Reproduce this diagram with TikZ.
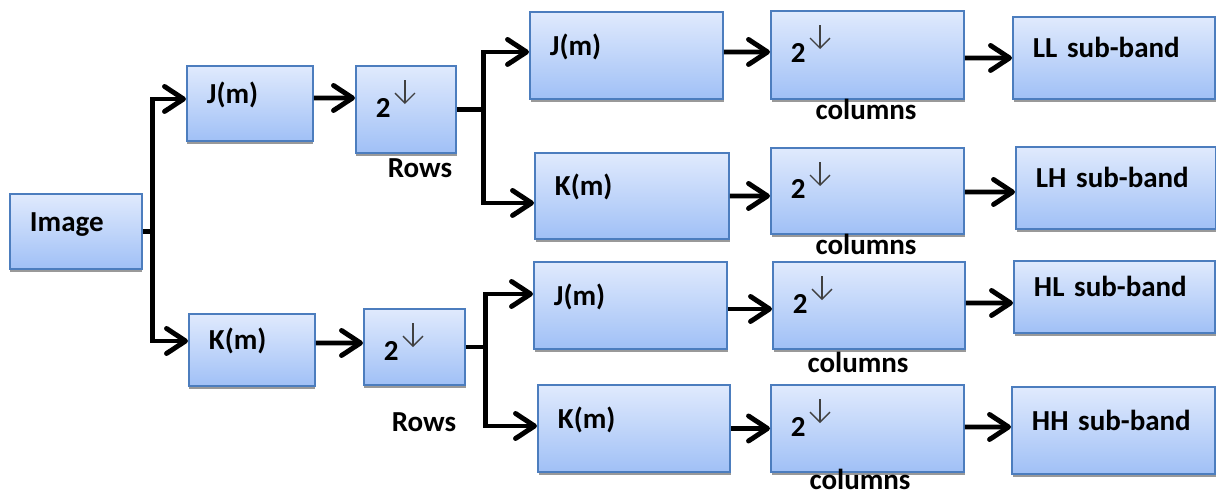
\documentclass[tikz,border=0pt]{standalone}
\usepackage{fontspec}
\setmainfont{Carlito}
\usetikzlibrary{arrows.meta,shadows}

\definecolor{boxtop}{RGB}{224,234,253}
\definecolor{boxbottom}{RGB}{160,192,246}
\definecolor{boxline}{RGB}{76,125,190}

\begin{document}
\begin{tikzpicture}[x=0.02cm, y=-0.02cm,
		box/.style 2 args={draw=boxline, line width=1.1pt, top color=boxtop, bottom color=boxbottom,
			drop shadow={shadow xshift=0.3pt, shadow yshift=-2pt, fill=black!40, opacity=1},
			anchor=north west, minimum width=#1*0.02cm, minimum height=#2*0.02cm,
			text width=#1*0.02cm-0.8cm, inner xsep=0.4cm, align=left,
			font=\fontsize{16.5}{19}\selectfont\bfseries, text height=0.35cm, text depth=0.35cm},
		down/.style={text height=0.4cm, text depth=0.08cm},
		note/.style={font=\fontsize{16.5}{19}\selectfont\bfseries, inner sep=1pt},
		wire/.style={line width=2.8pt},
		link/.style={wire, -{Straight Barb[length=0.38cm, width=0.5cm, round]}},
		dnarrow/.style={black!75, line width=0.8pt, -{Straight Barb[length=0.2cm, width=0.4cm]}}]
			\useasboundingbox (0,0) rectangle (1216,495);

			\node[box={132}{75}] (img) at (9,193) {Image};

			% rows
			\node[box={126}{75}] (ja1) at (186,65) {J(m)};
			\node[box={126}{72}] (ka1) at (188,313) {K(m)};
			\node[box={100}{87}, down] (r1) at (355,65) {2};
			\node[box={101}{76}, down, text height=0.6cm, text depth=0.04cm] (r2) at (363,308) {2};
			\node[note] (rw1) at (420,168) {Rows};
			\node[note] (rw2) at (424,422) {Rows};

			% columns
			\node[box={193}{87}] (ja2) at (529,11) {J(m)};
			\node[box={194}{86}] (ka2) at (534,152) {K(m)};
			\node[box={193}{87}] (ja3) at (533,261) {J(m)};
			\node[box={192}{87}] (ka3) at (537,384) {K(m)};
			\node[box={193}{88}, down] (c1) at (770,10) {2};
			\node[box={193}{86}, down] (c2) at (770,147) {2};
			\node[box={192}{87}, down] (c3) at (772,261) {2};
			\node[box={193}{87}, down] (c4) at (770,384) {2};
			\node[note] (cl1) at (866,109) {columns};
			\node[note] (cl2) at (866,244) {columns};
			\node[note] (cl3) at (858,362) {columns};
			\node[note] (cl4) at (860,479) {columns};

			% sub-bands
			\node[box={202}{82}] (ll) at (1012,16) {LL sub-band};
			\node[box={200}{82}] (lh) at (1015,146) {LH sub-band};
			\node[box={201}{72}] (hl) at (1013,260) {HL sub-band};
			\node[box={203}{87}] (hh) at (1011,386) {HH sub-band};

			% the down arrow after each 2
			\foreach \n in {r1,r2,c1,c2,c3,c4}
				\draw[dnarrow] ([xshift=1cm, yshift=-0.3cm]\n.north west) -- ([xshift=1cm, yshift=-0.78cm]\n.north west);

			\coordinate (s1) at ([xshift=0.2cm]img.east);
			\coordinate (s2) at ([xshift=0.54cm]r1.east);
			\coordinate (s3) at ([xshift=0.4cm]r2.east);

			\draw[wire] (img.east) -- (s1);
			\draw[link] (s1) |- ([yshift=0.09cm]ja1.west); % image to J
			\draw[link] (s1) |- ([yshift=0.18cm]ka1.west); % image to K
			\draw[link] ([yshift=0.11cm]ja1.east) -- ([yshift=0.23cm]r1.west);
			\draw[link] ([yshift=0.14cm]ka1.east) -- ([yshift=0.08cm]r2.west);

			\draw[wire] (r1.east) -- (s2);
			\draw[link] (s2) |- ([yshift=0.07cm]ja2.west);
			\draw[link] (s2) |- ([yshift=-0.14cm]ka2.west);
			\draw[wire] (r2.east) -- (s3);
			\draw[link] (s3) |- ([yshift=0.23cm]ja3.west);
			\draw[link] (s3) |- ([yshift=0.05cm]ka3.west);

			\draw[link] ([yshift=0.07cm]ja2.east) -- ([yshift=0.06cm]c1.west);
			\draw[link] (ka2.east) -- ([yshift=-0.1cm]c2.west);
			\draw[link] ([yshift=-0.07cm]ja3.east) -- ([yshift=-0.07cm]c3.west);
			\draw[link] (ka3.east) -- (c4.west);

			\draw[link] ([yshift=-0.06cm]c1.east) -- (ll.west); % to LL
			\draw[link] ([yshift=-0.02cm]c2.east) -- ([yshift=-0.08cm]lh.west); % to LH
			\draw[link] ([yshift=0.05cm]c3.east) -- ([yshift=-0.12cm]hl.west); % to HL
			\draw[link] ([yshift=0.03cm]c4.east) -- ([yshift=0.07cm]hh.west); % to HH
		\end{tikzpicture}
\end{document}
